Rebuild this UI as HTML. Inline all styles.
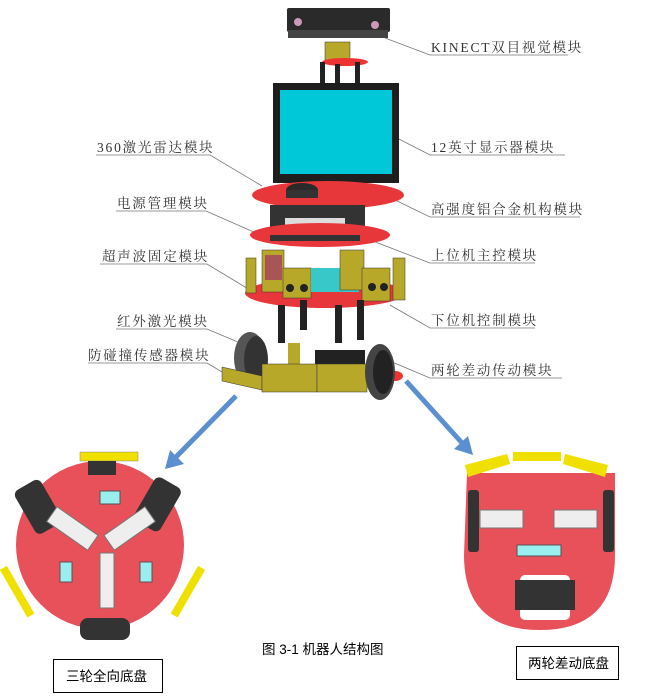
<!DOCTYPE html>
<html><head><meta charset="utf-8"><style>
body{margin:0;background:#fff;width:648px;height:699px;overflow:hidden}
svg{display:block}
text{font-family:"Liberation Serif","Noto Serif CJK SC","Noto Sans CJK SC",serif;font-size:13.5px;fill:#333;letter-spacing:1.8px}
.c{font-family:"Liberation Sans","Noto Sans CJK SC",sans-serif;letter-spacing:0;fill:#000}
</style></head><body>
<svg width="648" height="699" viewBox="0 0 648 699" xmlns="http://www.w3.org/2000/svg">
<g stroke="#777" stroke-width="0.8" fill="none">
<path d="M96 155H210L262 186"/>
<path d="M116 211H206L272 240"/>
<path d="M100 264H207L250 290"/>
<path d="M116 329H207L245 345"/>
<path d="M88 363H207L232 378"/>
<path d="M568 55H430L385 38"/>
<path d="M565 155H430L395 137"/>
<path d="M580 217H430L395 200"/>
<path d="M535 263H430L370 240"/>
<path d="M535 328H430L390 305"/>
<path d="M562 378H430L392 362"/>
</g>
<text x="97" y="152">360激光雷达模块</text>
<text x="117" y="208">电源管理模块</text>
<text x="102" y="261">超声波固定模块</text>
<text x="117" y="326">红外激光模块</text>
<text x="88" y="360">防碰撞传感器模块</text>
<text x="431" y="52">KINECT双目视觉模块</text>
<text x="431" y="152">12英寸显示器模块</text>
<text x="431" y="214">高强度铝合金机构模块</text>
<text x="431" y="260">上位机主控模块</text>
<text x="431" y="325">下位机控制模块</text>
<text x="431" y="375">两轮差动传动模块</text>
<!-- central robot -->
<rect x="287" y="8" width="103" height="24" rx="2" fill="#2a2a2a"/>
<rect x="288" y="30" width="100" height="8" fill="#444"/>
<circle cx="298" cy="22" r="4" fill="#c9b"/><circle cx="375" cy="25" r="4" fill="#c9b"/>
<rect x="325" y="42" width="25" height="18" fill="#b8a82a" stroke="#333" stroke-width=".5"/>
<ellipse cx="345" cy="62" rx="23" ry="4" fill="#e33"/>
<rect x="320" y="62" width="5" height="28" fill="#222"/><rect x="335" y="64" width="5" height="28" fill="#222"/><rect x="355" y="62" width="5" height="28" fill="#222"/>
<rect x="273" y="83" width="126" height="100" fill="#1e1e1e"/>
<rect x="280" y="90" width="112" height="84" fill="#00c8d8"/>
<rect x="318" y="182" width="5" height="12" fill="#222"/><rect x="340" y="182" width="5" height="12" fill="#222"/>
<ellipse cx="328" cy="195" rx="76" ry="14" fill="#e8373a"/>
<ellipse cx="302" cy="190" rx="16" ry="7" fill="#2a2a2a"/><rect x="286" y="190" width="32" height="8" fill="#333"/>
<rect x="270" y="205" width="95" height="28" fill="#333"/>
<rect x="285" y="218" width="60" height="8" fill="#ddd"/>
<ellipse cx="320" cy="235" rx="70" ry="12" fill="#e8373a"/>
<rect x="270" y="235" width="90" height="6" fill="#333"/>
<!-- middle level -->
<ellipse cx="325" cy="293" rx="80" ry="15" fill="#e8373a"/>
<rect x="246" y="258" width="10" height="35" fill="#b8a82a" stroke="#333" stroke-width=".5"/>
<rect x="262" y="250" width="22" height="42" fill="#b8a82a" stroke="#333" stroke-width=".5"/>
<rect x="265" y="255" width="17" height="25" fill="#a55"/>
<rect x="283" y="268" width="28" height="30" fill="#b8a82a" stroke="#333" stroke-width=".5"/>
<circle cx="290" cy="288" r="4" fill="#222"/><circle cx="304" cy="288" r="4" fill="#222"/>
<rect x="311" y="268" width="48" height="24" fill="#39c8c8"/>
<rect x="340" y="250" width="24" height="40" fill="#b8a82a" stroke="#333" stroke-width=".5"/>
<rect x="362" y="268" width="28" height="33" fill="#b8a82a" stroke="#333" stroke-width=".5"/>
<circle cx="372" cy="287" r="4" fill="#222"/><circle cx="384" cy="287" r="4" fill="#222"/>
<rect x="393" y="258" width="12" height="42" fill="#b8a82a" stroke="#333" stroke-width=".5"/>
<rect x="278" y="305" width="7" height="38" fill="#222"/><rect x="300" y="300" width="7" height="30" fill="#222"/><rect x="335" y="305" width="7" height="38" fill="#222"/><rect x="357" y="300" width="7" height="40" fill="#222"/>
<!-- base -->
<ellipse cx="250" cy="358" rx="16" ry="26" fill="#555"/><ellipse cx="256" cy="360" rx="12" ry="24" fill="#333"/>
<ellipse cx="395" cy="376" rx="8" ry="5" fill="#e33"/>
<rect x="288" y="343" width="12" height="22" fill="#b8a82a"/>
<rect x="315" y="350" width="50" height="14" fill="#222"/>
<path d="M222 367L262 376L262 390L222 381Z" fill="#b8a82a" stroke="#333" stroke-width=".5"/>
<rect x="262" y="364" width="55" height="28" fill="#b8a82a" stroke="#333" stroke-width=".5"/>
<rect x="317" y="364" width="50" height="28" fill="#b8a82a" stroke="#333" stroke-width=".5"/>
<ellipse cx="380" cy="372" rx="15" ry="28" fill="#444"/><ellipse cx="383" cy="372" rx="10" ry="22" fill="#222"/>
<!-- arrows -->
<g stroke="#5b8fd0" stroke-width="5" fill="#5b8fd0">
<line x1="236" y1="396" x2="175" y2="458"/>
<line x1="406" y1="381" x2="463" y2="444"/>
</g>
<path d="M165 469L170 450L184 464Z" fill="#5b8fd0"/>
<path d="M473 455L454 449L468 436Z" fill="#5b8fd0"/>
<!-- left chassis -->
<rect x="80" y="452" width="58" height="9" fill="#f0e000" stroke="#888" stroke-width=".5"/>
<circle cx="100" cy="545" r="84" fill="#e8505a"/>
<rect x="88" y="461" width="28" height="14" fill="#333"/>
<g transform="rotate(-30 40 500)"><rect x="20" y="480" width="30" height="50" rx="6" fill="#333"/></g>
<g transform="rotate(30 160 500)"><rect x="145" y="480" width="30" height="50" rx="6" fill="#333"/></g>
<rect x="80" y="618" width="50" height="22" rx="8" fill="#333"/>
<g transform="rotate(60 15 590)"><rect x="-10" y="585" width="55" height="8" fill="#f0e000"/></g>
<g transform="rotate(-60 190 590)"><rect x="160" y="585" width="55" height="8" fill="#f0e000"/></g>
<g transform="rotate(35 80 535)"><rect x="45" y="525" width="50" height="18" fill="#eee" stroke="#777"/></g>
<g transform="rotate(-35 122 535)"><rect x="107" y="525" width="50" height="18" fill="#eee" stroke="#777"/></g>
<rect x="100" y="553" width="14" height="55" fill="#eee" stroke="#777"/>
<rect x="100" y="491" width="20" height="13" fill="#9ee" stroke="#555"/>
<rect x="60" y="562" width="12" height="20" fill="#9ee" stroke="#555"/>
<rect x="140" y="562" width="12" height="20" fill="#9ee" stroke="#555"/>
<!-- right chassis -->
<path d="M467 473H615V555Q615 630 540 630Q464 630 464 555Z" fill="#e8505a"/>
<path d="M465 465L507 454L510 464L468 477Z" fill="#f0e000"/>
<rect x="513" y="452" width="48" height="9" fill="#f0e000"/>
<path d="M565 454L608 465L605 477L563 464Z" fill="#f0e000"/>
<rect x="468" y="490" width="11" height="62" rx="3" fill="#333"/>
<rect x="603" y="490" width="11" height="62" rx="3" fill="#333"/>
<rect x="480" y="510" width="43" height="18" fill="#eee" stroke="#777"/>
<rect x="554" y="510" width="43" height="18" fill="#eee" stroke="#777"/>
<rect x="517" y="545" width="44" height="11" fill="#9ee" stroke="#555"/>
<rect x="520" y="575" width="50" height="45" rx="5" fill="#fff"/>
<rect x="515" y="580" width="60" height="30" fill="#333"/>
<!-- caption -->
<text class="c" x="262" y="654">图 3-1   机器人结构图</text>
<rect x="53.5" y="659.5" width="109" height="33" fill="#fff" stroke="#000"/>
<text class="c" x="66" y="681">三轮全向底盘</text>
<rect x="516.5" y="646.5" width="102" height="33" fill="#fff" stroke="#000"/>
<text class="c" x="528" y="668">两轮差动底盘</text>
</svg>
</body></html>
